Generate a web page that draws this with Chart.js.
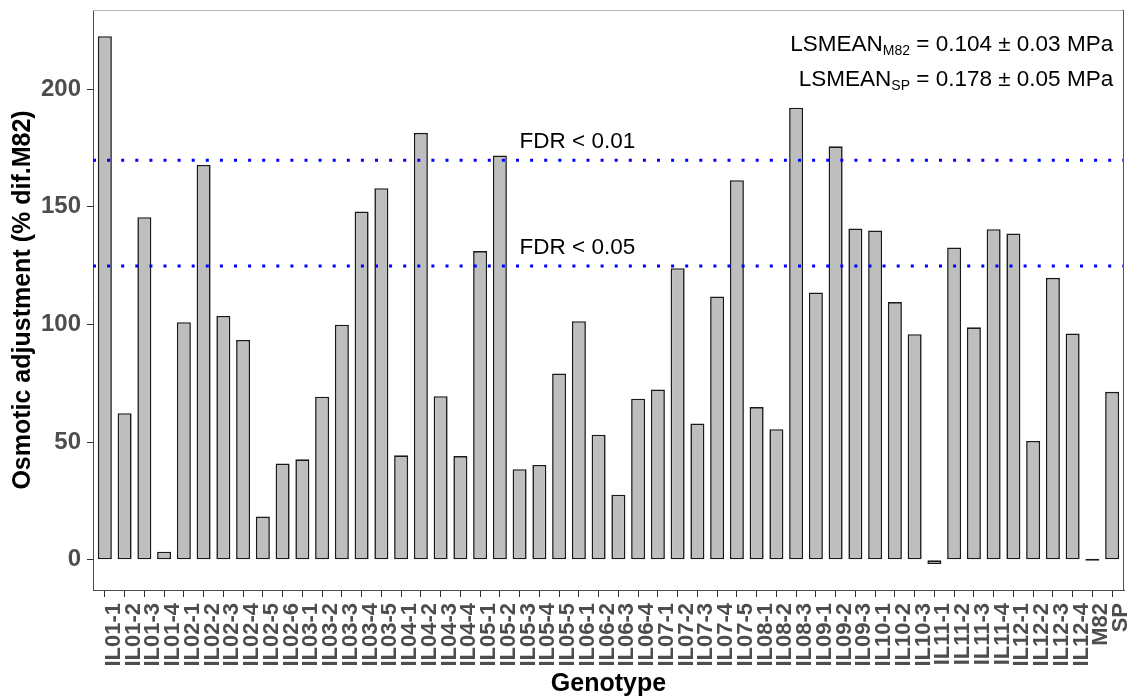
<!DOCTYPE html>
<html>
<head>
<meta charset="utf-8">
<script src="https://cdn.jsdelivr.net/npm/chart.js@4.4.1/dist/chart.umd.min.js"></script>
<style>
html,body{margin:0;padding:0;background:#ffffff;}
#wrap{width:1134px;height:700px;}
</style>
</head>
<body>
<div id="wrap"><canvas id="c" width="1134" height="700"></canvas></div>
<script>
// ---------------- data ----------------
const categories = [
  'IL01-1','IL01-2','IL01-3','IL01-4',
  'IL02-1','IL02-2','IL02-3','IL02-4','IL02-5','IL02-6',
  'IL03-1','IL03-2','IL03-3','IL03-4','IL03-5',
  'IL04-1','IL04-2','IL04-3','IL04-4',
  'IL05-1','IL05-2','IL05-3','IL05-4','IL05-5',
  'IL06-1','IL06-2','IL06-3','IL06-4',
  'IL07-1','IL07-2','IL07-3','IL07-4','IL07-5',
  'IL08-1','IL08-2','IL08-3',
  'IL09-1','IL09-2','IL09-3',
  'IL10-1','IL10-2','IL10-3',
  'IL11-1','IL11-2','IL11-3','IL11-4',
  'IL12-1','IL12-2','IL12-3','IL12-4',
  'M82','SP'
];
const osmoticAdjustment = [
  222.5, 62.3, 145.6, 3.5,
  101.0, 167.8, 103.6, 93.4, 18.4, 40.9,
  42.7, 69.3, 99.9, 148.0, 157.9,
  44.4, 181.4, 69.5, 44.1,
  131.2, 171.8, 38.5, 40.3, 79.2,
  101.4, 53.2, 27.7, 68.5,
  72.4, 123.9, 57.9, 111.9, 161.3,
  64.9, 55.5, 192.1,
  113.6, 175.7, 140.8,
  139.9, 109.5, 95.9,
  -1.8, 132.7, 98.8, 140.5,
  138.7, 50.5, 119.8, 96.2,
  0, 71.4
];
const yTickValues = [0, 50, 100, 150, 200];
const fdrThresholds = [169.8, 124.8];
const fdrLabels = ['FDR < 0.01', 'FDR < 0.05'];
const lsmeanNames = ['LSMEAN', 'LSMEAN'];
const lsmeanSubs = ['M82', 'SP'];
const lsmeanTexts = [' = 0.104 \u00B1 0.03 MPa', ' = 0.178 \u00B1 0.05 MPa'];

// ---------------- config ----------------
const FONT = "'Liberation Sans', Arial, Helvetica, sans-serif";
Chart.defaults.font.family = FONT;

const annot = {
  fdrLabelCategory: 'IL05-3',
  fdrLabelLift: 5.1,
  lsmeanAnchorCategory: 'SP',
  lsmeanBaselines: [216.3, 201.3]
};

const annotationPlugin = {
  id: 'annotations',
  afterDatasetsDraw(chart) {
    const {ctx, chartArea: a, scales: {x, y}} = chart;
    ctx.save();
    // dotted FDR threshold lines
    ctx.strokeStyle = '#0000FF';
    ctx.lineWidth = 3;
    ctx.lineCap = 'butt';
    ctx.setLineDash([3, 11.1]);
    fdrThresholds.forEach(v => {
      const py = y.getPixelForValue(v);
      ctx.beginPath();
      ctx.moveTo(a.left, py);
      ctx.lineTo(a.right, py);
      ctx.stroke();
    });
    ctx.setLineDash([]);
    // FDR labels
    ctx.fillStyle = '#000000';
    ctx.font = '22.5px ' + FONT;
    ctx.textAlign = 'left';
    ctx.textBaseline = 'alphabetic';
    const fx = x.getPixelForValue(categories.indexOf(annot.fdrLabelCategory));
    fdrLabels.forEach((t, i) => {
      ctx.fillText(t, fx, y.getPixelForValue(fdrThresholds[i] + annot.fdrLabelLift));
    });
    // LSMEAN texts with subscripts, right aligned
    const rx = x.getPixelForValue(categories.indexOf(annot.lsmeanAnchorCategory)) + 1;
    const mainFont = '22.5px ' + FONT;
    const subFont = '14px ' + FONT;
    lsmeanNames.forEach((nm, i) => {
      ctx.font = mainFont;
      const w1 = ctx.measureText(nm).width;
      const w3 = ctx.measureText(lsmeanTexts[i]).width;
      ctx.font = subFont;
      const w2 = ctx.measureText(lsmeanSubs[i]).width;
      const by = y.getPixelForValue(annot.lsmeanBaselines[i]);
      let sx = rx - (w1 + w2 + w3);
      ctx.font = mainFont;
      ctx.fillText(nm, sx, by);
      ctx.font = subFont;
      ctx.fillText(lsmeanSubs[i], sx + w1, by + 4);
      ctx.font = mainFont;
      ctx.fillText(lsmeanTexts[i], sx + w1 + w2, by);
    });
    ctx.restore();
  },
  afterDraw(chart) {
    const {ctx, chartArea: a} = chart;
    ctx.save();
    ctx.lineWidth = 1;
    ctx.strokeStyle = '#B3B3B3';
    ctx.beginPath();
    ctx.moveTo(a.left, a.top + 0.5);
    ctx.lineTo(a.right, a.top + 0.5);
    ctx.stroke();
    ctx.strokeStyle = '#555555';
    ctx.beginPath();
    ctx.moveTo(a.right - 0.5, a.top);
    ctx.lineTo(a.right - 0.5, a.bottom);
    ctx.stroke();
    ctx.restore();
  }
};

new Chart(document.getElementById('c').getContext('2d'), {
  type: 'bar',
  data: {
    datasets: [{
      data: categories.map((c, i) => ({x: i, y: osmoticAdjustment[i]})),
      backgroundColor: '#BEBEBE',
      borderColor: '#1A1A1A',
      borderWidth: 1.6,
      borderSkipped: false,
      barPercentage: 0.71,
      categoryPercentage: 1,
      minBarLength: 2
    }]
  },
  options: {
    responsive: false,
    animation: false,
    devicePixelRatio: 1,
    layout: {padding: {top: 10, right: 10, left: 0, bottom: 0}},
    plugins: {legend: {display: false}, tooltip: {enabled: false}, title: {display: false}},
    scales: {
      x: {
        type: 'linear',
        offset: false,
        min: -0.6,
        max: categories.length - 1 + 0.6,
        afterBuildTicks: s => { s.ticks = categories.map((c, i) => ({value: i})); },
        afterFit: s => { s.height = 110; s.paddingLeft = 0; s.paddingRight = 0; },
        grid: {display: true, drawOnChartArea: false, drawTicks: true, tickLength: 7, tickColor: '#333333', tickWidth: 1, offset: false},
        border: {display: true, color: '#4D4D4D', width: 1},
        ticks: {
          autoSkip: false, maxRotation: 90, minRotation: 90, padding: 6, labelOffset: 9,
          color: '#4D4D4D', font: {size: 22, weight: 'bold'},
          callback: v => categories[v]
        },
        title: {display: true, text: 'Genotype', color: '#000000', font: {size: 25, weight: 'bold'}, padding: {top: 0, bottom: 1}}
      },
      y: {
        min: -12.8,
        max: 233.6,
        afterBuildTicks: s => { s.ticks = yTickValues.map(v => ({value: v})); },
        afterFit: s => { s.width = 93; s.paddingTop = 0; s.paddingBottom = 0; },
        grid: {display: true, drawOnChartArea: false, drawTicks: true, tickLength: 6, tickColor: '#333333', tickWidth: 1},
        border: {display: true, color: '#4D4D4D', width: 1},
        ticks: {padding: 6, color: '#4D4D4D', font: {size: 24, weight: 'bold'}},
        title: {display: true, text: 'Osmotic adjustment (% dif.M82)', color: '#000000', font: {size: 25, weight: 'bold'}, padding: {top: 8, bottom: 0}}
      }
    }
  },
  plugins: [annotationPlugin]
});
</script>
</body>
</html>
